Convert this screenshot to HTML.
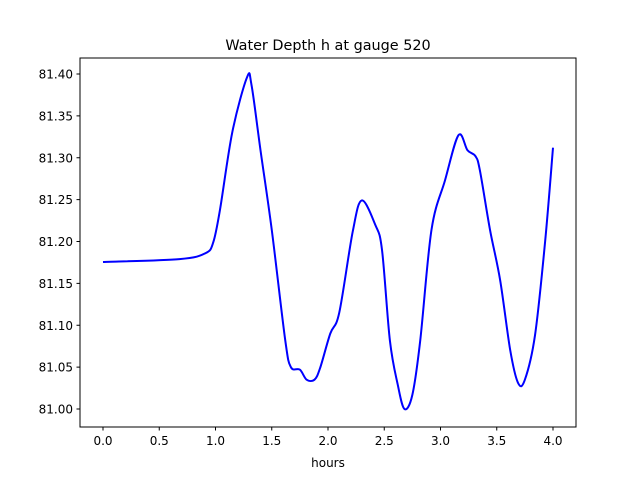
<!DOCTYPE html>
<html><head><meta charset="utf-8"><style>
body{margin:0;background:#fff}
text{font-family:"DejaVu Sans","Liberation Sans",sans-serif;fill:#000}
</style></head><body>
<svg id="chart" width="640" height="480">
<rect width="640" height="480" fill="#fff"/>
<text x="328" y="50" font-size="14.4" text-anchor="middle">Water Depth h at gauge 520</text>
<g id="axes"></g>
<path id="line" fill="none" stroke="#0000ff" stroke-width="2"/>
<rect x="80" y="58" width="496" height="369" fill="none" stroke="#000" stroke-width="1"/>
<text x="328" y="467" font-size="12" text-anchor="middle">hours</text>
</svg>
<script>
const xs=[0,0.68,0.91,0.98,1.04,1.15,1.28,1.32,1.40,1.50,1.62,1.67,1.75,1.81,1.88,1.93,2.02,2.10,2.22,2.30,2.42,2.48,2.55,2.62,2.68,2.75,2.82,2.92,3.04,3.16,3.24,3.31,3.35,3.44,3.53,3.62,3.69,3.75,3.84,3.93,4.0];
const ys=[81.1755,81.179,81.186,81.199,81.238,81.331,81.396,81.387,81.309,81.214,81.082,81.05,81.047,81.035,81.035,81.049,81.09,81.115,81.212,81.249,81.22,81.19,81.082,81.029,81.0,81.017,81.082,81.214,81.273,81.327,81.309,81.302,81.285,81.214,81.154,81.07,81.031,81.035,81.088,81.20,81.312];
const xTicks=[0,0.5,1,1.5,2,2.5,3,3.5,4];
const xTickLabels=["0.0","0.5","1.0","1.5","2.0","2.5","3.0","3.5","4.0"];
const yTicks=[81.00,81.05,81.10,81.15,81.20,81.25,81.30,81.35,81.40];
const yTickLabels=["81.00","81.05","81.10","81.15","81.20","81.25","81.30","81.35","81.40"];
const X=v=>103+v*112.5, Y=v=>409-(v-81.0)*837.5;
const NS="http://www.w3.org/2000/svg", ax=document.getElementById('axes');
function mk(t,a){const e=document.createElementNS(NS,t);for(const k in a)e.setAttribute(k,a[k]);ax.appendChild(e);return e;}
xTicks.forEach((v,i)=>{
 const l=mk('line',{x1:X(v),x2:X(v),y1:427,y2:430.5,stroke:'#000'});
 
 
 const t=mk('text',{x:X(v),y:445,'font-size':12,'text-anchor':'middle'});t.textContent=xTickLabels[i];
 
 
});
yTicks.forEach((v,i)=>{
 const l=mk('line',{x1:76.5,x2:80,y1:Y(v),y2:Y(v),stroke:'#000'});
 
 
 const t=mk('text',{x:73,y:Y(v)+4.5,'font-size':12,'text-anchor':'end'});t.textContent=yTickLabels[i];
 
 
});
const P=xs.map((x,i)=>[X(x),Y(ys[i])]);
let d=`M${P[0][0]},${P[0][1]}`;
for(let i=0;i<P.length-1;i++){
 const p0=P[Math.max(i-1,0)],p1=P[i],p2=P[i+1],p3=P[Math.min(i+2,P.length-1)];
 const c1=[p1[0]+(p2[0]-p0[0])/6,p1[1]+(p2[1]-p0[1])/6],c2=[p2[0]-(p3[0]-p1[0])/6,p2[1]-(p3[1]-p1[1])/6];
 d+=` C${c1[0]},${c1[1]} ${c2[0]},${c2[1]} ${p2[0]},${p2[1]}`;
}
document.getElementById('line').setAttribute('d',d);
</script>
</body></html>
